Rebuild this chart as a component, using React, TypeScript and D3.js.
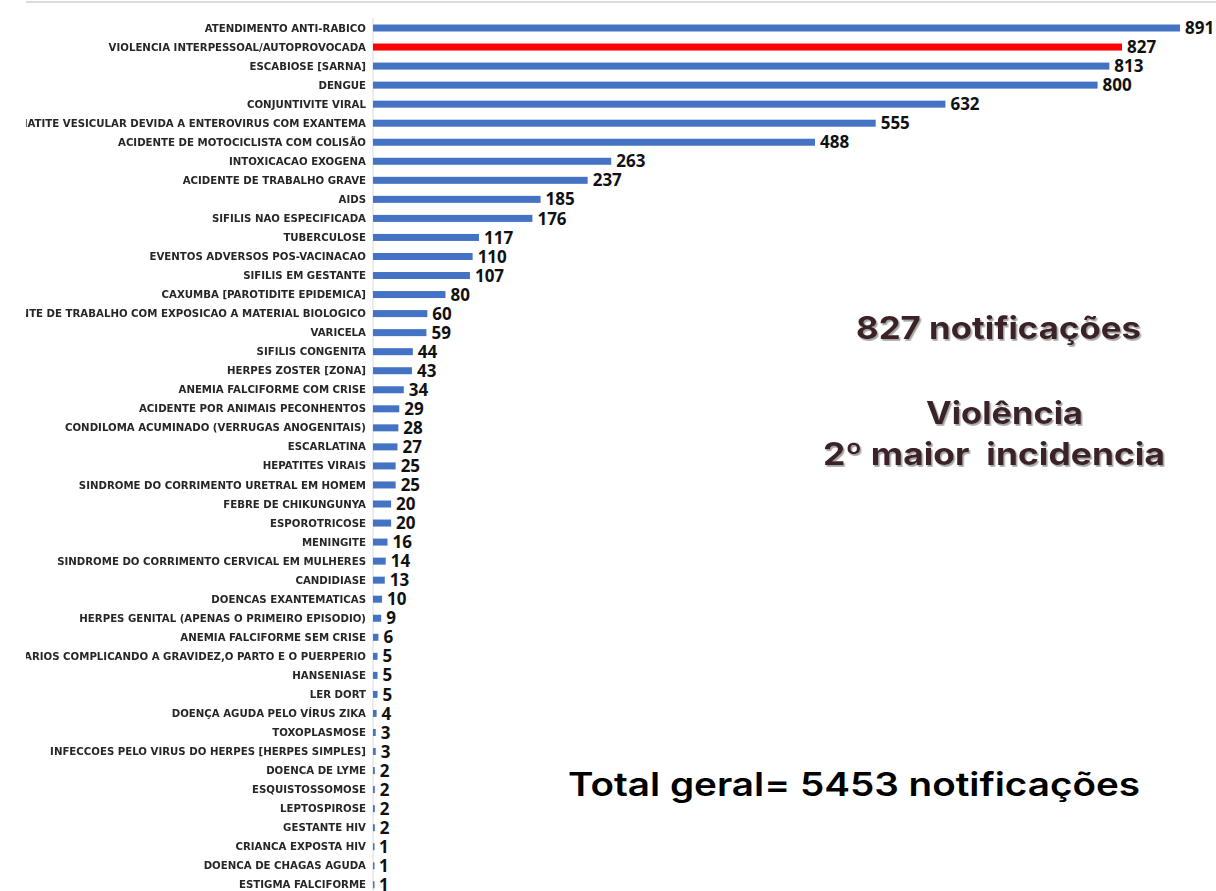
import React from "react";
import * as d3 from "d3";

const categories: string[] = [
  "ATENDIMENTO ANTI-RABICO",
  "VIOLENCIA INTERPESSOAL/AUTOPROVOCADA",
  "ESCABIOSE [SARNA]",
  "DENGUE",
  "CONJUNTIVITE VIRAL",
  "ESTOMATITE VESICULAR DEVIDA A ENTEROVIRUS COM EXANTEMA",
  "ACIDENTE DE MOTOCICLISTA COM COLISÃO",
  "INTOXICACAO EXOGENA",
  "ACIDENTE DE TRABALHO GRAVE",
  "AIDS",
  "SIFILIS NAO ESPECIFICADA",
  "TUBERCULOSE",
  "EVENTOS ADVERSOS POS-VACINACAO",
  "SIFILIS EM GESTANTE",
  "CAXUMBA [PAROTIDITE EPIDEMICA]",
  "ACIDENTE DE TRABALHO COM EXPOSICAO A MATERIAL BIOLOGICO",
  "VARICELA",
  "SIFILIS CONGENITA",
  "HERPES ZOSTER [ZONA]",
  "ANEMIA FALCIFORME COM CRISE",
  "ACIDENTE POR ANIMAIS PECONHENTOS",
  "CONDILOMA ACUMINADO (VERRUGAS ANOGENITAIS)",
  "ESCARLATINA",
  "HEPATITES VIRAIS",
  "SINDROME DO CORRIMENTO URETRAL EM HOMEM",
  "FEBRE DE CHIKUNGUNYA",
  "ESPOROTRICOSE",
  "MENINGITE",
  "SINDROME DO CORRIMENTO CERVICAL EM MULHERES",
  "CANDIDIASE",
  "DOENCAS EXANTEMATICAS",
  "HERPES GENITAL (APENAS O PRIMEIRO EPISODIO)",
  "ANEMIA FALCIFORME SEM CRISE",
  "TRANSTORNOS VARIOS COMPLICANDO A GRAVIDEZ,O PARTO E O PUERPERIO",
  "HANSENIASE",
  "LER DORT",
  "DOENÇA AGUDA PELO VÍRUS ZIKA",
  "TOXOPLASMOSE",
  "INFECCOES PELO VIRUS DO HERPES [HERPES SIMPLES]",
  "DOENCA DE LYME",
  "ESQUISTOSSOMOSE",
  "LEPTOSPIROSE",
  "GESTANTE HIV",
  "CRIANCA EXPOSTA HIV",
  "DOENCA DE CHAGAS AGUDA",
  "ESTIGMA FALCIFORME",
];

const values: number[] = [
  891, 827, 813, 800, 632, 555, 488, 263, 237, 185, 176, 117, 110, 107, 80, 60,
  59, 44, 43, 34, 29, 28, 27, 25, 25, 20, 20, 16, 14, 13, 10, 9, 6, 5, 5, 5, 4,
  3, 3, 2, 2, 2, 2, 1, 1, 1,
];

const highlighted: string[] = ["VIOLENCIA INTERPESSOAL/AUTOPROVOCADA"];

const noteLines: string[] = ["827 notificações", "Violência", "2º maior  incidencia"];
const totalText = "Total geral= 5453 notificações";

export default function App() {
  const W = 1216;
  const H = 891;
  const axisX = 373;
  const step = 19.04;
  const firstCenter = 28;

  const x = d3.scaleLinear().domain([0, 891]).range([axisX, 1180]);
  const y = d3
    .scaleBand<string>()
    .domain(categories)
    .range([firstCenter - step / 2, firstCenter - step / 2 + step * categories.length])
    .padding(0);

  const barH = 7;
  const data = categories.map((c, i) => ({ c, v: values[i] }));

  return (
    <svg
      width={W}
      height={H}
      style={{ position: "absolute", left: 0, top: 0, background: "#fff" }}
    >
      <defs>
        <clipPath id="labelClip">
          <rect x={26} y={0} width={W} height={H} />
        </clipPath>
        <filter id="shadow" x="-5%" y="-20%" width="110%" height="140%">
          <feDropShadow dx="1.5" dy="1.8" stdDeviation="0.6" floodColor="#9a9a9a" floodOpacity="0.9" />
        </filter>
        <filter id="blur">
          <feGaussianBlur stdDeviation="0.35" />
        </filter>
      </defs>
      <rect x={0} y={0} width={W} height={H} fill="#fff" />
      <line x1={26} x2={W} y1={2} y2={2} stroke="#dcdcdc" strokeWidth={2} />
      <line x1={axisX} x2={axisX} y1={18} y2={H} stroke="#d9d9d9" strokeWidth={1} />

      <g clipPath="url(#labelClip)" filter="url(#blur)">
        {data.map((d) => (
          <text
            key={d.c}
            x={axisX - 7}
            y={(y(d.c) as number) + step / 2}
            dy="0.35em"
            textAnchor="end"
            fontFamily="'DejaVu Sans', Verdana, sans-serif"
            fontWeight="bold"
            fontSize={10.2}
            fill="#262626"
          >
            {d.c}
          </text>
        ))}
      </g>

      {data.map((d) => (
        <rect
          key={d.c}
          x={x(0)}
          y={(y(d.c) as number) + step / 2 - barH / 2}
          width={Math.max(1.5, x(d.v) - x(0))}
          height={barH}
          fill={highlighted.includes(d.c) ? "#ff0000" : "#4472c4"}
        />
      ))}

      {data.map((d) => (
        <text
          key={d.c}
          x={x(d.v) + 5}
          y={(y(d.c) as number) + step / 2}
          dy="0.36em"
          fontFamily="'Open Sans', 'Liberation Sans', sans-serif"
          fontWeight="bold"
          fontSize={17}
          fill="#111"
        >
          {d.v}
        </text>
      ))}

      <g
        filter="url(#shadow)"
        fontFamily="Inter, 'Open Sans', sans-serif"
        fontWeight={700}
        fill="#3b2225"
      >
        <text x={856} y={339} fontSize={31} textLength={285} lengthAdjust="spacingAndGlyphs">
          {noteLines[0]}
        </text>
        <text x={926} y={424} fontSize={31} textLength={157} lengthAdjust="spacingAndGlyphs">
          {noteLines[1]}
        </text>
        <text
          x={823}
          y={465}
          fontSize={31}
          textLength={342}
          lengthAdjust="spacingAndGlyphs"
          style={{ whiteSpace: "pre" }}
        >
          {noteLines[2]}
        </text>
      </g>

      <text
        x={568}
        y={796}
        fontFamily="Inter, 'Open Sans', sans-serif"
        fontWeight={600}
        fontSize={32}
        textLength={572}
        lengthAdjust="spacingAndGlyphs"
        fill="#000"
      >
        {totalText}
      </text>
    </svg>
  );
}
